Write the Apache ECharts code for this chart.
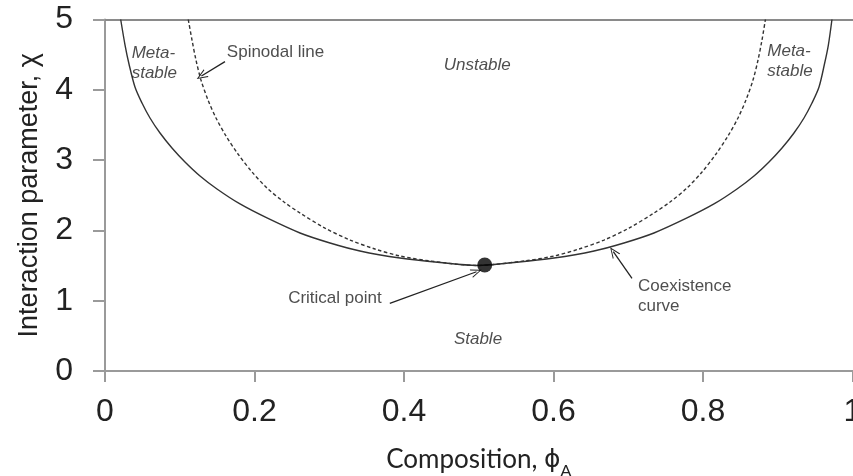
<!DOCTYPE html>
<html>
<head>
<meta charset="utf-8">
<script src="https://cdn.jsdelivr.net/npm/echarts@6/dist/echarts.min.js"></script>
<style>
  html, body { margin: 0; padding: 0; background: #fff; }
  #chart { width: 853px; height: 476px; }
</style>
</head>
<body>
<div id="chart"></div>
<script>
// Coexistence (binodal) curve: composition phi_A vs interaction parameter chi
const coexPhi = [0.0210, 0.0268, 0.0321, 0.0401, 0.0495, 0.0602, 0.0736, 0.0896, 0.1070, 0.1271, 0.1498, 0.1806, 0.2167,
                 0.2609, 0.3010, 0.3411, 0.3946, 0.4482, 0.4977,
                 0.5472, 0.6007, 0.6542, 0.6943, 0.7344, 0.7786, 0.8147, 0.8455, 0.8682, 0.8883, 0.9057, 0.9217,
                 0.9351, 0.9458, 0.9552, 0.9625, 0.9677, 0.9725];
const coexChi = [5.000, 4.637, 4.367, 4.040, 3.812, 3.599, 3.385, 3.172, 2.973, 2.774, 2.589, 2.376, 2.177,
                 1.963, 1.821, 1.707, 1.607, 1.543, 1.501,
                 1.543, 1.607, 1.707, 1.821, 1.963, 2.177, 2.376, 2.589, 2.774, 2.973, 3.172, 3.385,
                 3.599, 3.812, 4.040, 4.367, 4.637, 5.000];

// Spinodal line
const spinPhi = [0.1114, 0.1164, 0.1217, 0.1284, 0.1378, 0.1485, 0.1619, 0.1779, 0.1967, 0.2167, 0.2395, 0.2609,
                 0.2943, 0.3278, 0.3612, 0.3946, 0.4348, 0.4977,
                 0.5605, 0.6007, 0.6341, 0.6676, 0.7010, 0.7344, 0.7559, 0.7786, 0.7987, 0.8174, 0.8334,
                 0.8468, 0.8575, 0.8669, 0.8736, 0.8789, 0.8835];
const spinChi = [5.000, 4.708, 4.424, 4.139, 3.855, 3.599, 3.343, 3.087, 2.831, 2.603, 2.404, 2.247,
                 2.033, 1.863, 1.735, 1.636, 1.565, 1.501,
                 1.565, 1.636, 1.735, 1.863, 2.033, 2.247, 2.404, 2.603, 2.831, 3.087, 3.343,
                 3.599, 3.855, 4.139, 4.424, 4.708, 5.000];

// Critical point (phi_A, chi)
const criticalPoint = [0.508, 1.508];

// Axis ranges and tick steps
const xRange = [0, 1];
const yRange = [0, 5];
const xStep = 0.2;
const yStep = 1;

// Region and curve labels: [phi_A, chi, text, align]
const regionLabels = [
  [0.0357, 4.38, 'Meta-\nstable', 'left'],
  [0.886, 4.40, 'Meta-\nstable', 'left'],
  [0.498, 4.35, 'Unstable', 'center'],
  [0.499, 0.45, 'Stable', 'center']
];
const noteLabels = [
  [0.163, 4.54, 'Spinodal line', 'left'],
  [0.245, 1.034, 'Critical point', 'left'],
  [0.713, 1.057, 'Coexistence\ncurve', 'left']
];

// Pointer arrows: [from, to]
const pointers = [
  [[0.1605, 4.40], [0.129, 4.196]],
  [[0.381, 0.963], [0.497, 1.412]],
  [[0.705, 1.319], [0.680, 1.697]]
];

const zip = (a, b) => a.map((v, i) => [v, b[i]]);

const chart = echarts.init(document.getElementById('chart'), null, { renderer: 'canvas' });

const axisGray = '#9a9a9a';
const inkColor = '#222222';
const arrowHead = 'path://M5,0 L10,12 L8.8,12 L5,2.6 L1.2,12 L0,12 Z';

function labelSeries(items, italic) {
  return {
    type: 'scatter',
    silent: true,
    symbolSize: 0,
    z: 5,
    data: items.map(d => ({
      value: [d[0], d[1]],
      label: { align: d[3] }
    })),
    label: {
      show: true,
      position: 'inside',
      verticalAlign: 'middle',
      formatter: p => items[p.dataIndex][2],
      fontFamily: 'Liberation Sans, Arial, sans-serif',
      fontSize: 17,
      fontStyle: italic ? 'italic' : 'normal',
      lineHeight: 20,
      color: inkColor
    }
  };
}

chart.setOption({
  animation: false,
  backgroundColor: '#ffffff',
  grid: { left: 105, right: 0.5, top: 19.5, bottom: 105, containLabel: false, outerBoundsMode: 'none' },
  xAxis: [
    {
      type: 'value',
      min: xRange[0], max: xRange[1], interval: xStep,
      position: 'bottom',
      name: 'Composition, {phi|ϕ}{sub|A}',
      nameLocation: 'middle',
      nameGap: 76,
      nameTextStyle: {
        fontFamily: 'Lato, sans-serif',
        fontSize: 26,
        color: '#222',
        rich: {
          phi: { fontFamily: 'DejaVu Sans, sans-serif', fontSize: 25, color: '#222' },
          sub: { fontFamily: 'Lato, sans-serif', fontSize: 16, color: '#222', verticalAlign: 'bottom', padding: [0, 0, -6, 0] }
        }
      },
      axisLine: { show: true, lineStyle: { color: axisGray, width: 2 } },
      axisTick: { show: true, length: 11, lineStyle: { color: axisGray, width: 2 } },
      axisLabel: { fontFamily: 'Liberation Sans, Arial, sans-serif', fontSize: 32, color: '#222', margin: 25 },
      splitLine: { show: false }
    },
    {
      type: 'value',
      min: xRange[0], max: xRange[1],
      position: 'top',
      axisLine: { show: true, lineStyle: { color: '#8a8a8a', width: 2 } },
      axisTick: { show: false },
      axisLabel: { show: false },
      splitLine: { show: false }
    }
  ],
  yAxis: {
    type: 'value',
    min: yRange[0], max: yRange[1], interval: yStep,
    name: 'Interaction parameter, χ',
    nameLocation: 'middle',
    nameGap: 62,
    nameTextStyle: { fontFamily: 'Liberation Sans, Arial, sans-serif', fontSize: 27, color: '#222' },
    axisLine: { show: true, lineStyle: { color: axisGray, width: 2 } },
    axisTick: { show: true, length: 12, lineStyle: { color: axisGray, width: 2 } },
    axisLabel: { fontFamily: 'Liberation Sans, Arial, sans-serif', fontSize: 32, color: '#222', margin: 32 },
    splitLine: { show: false }
  },
  series: [
    {
      name: 'Coexistence curve',
      type: 'line',
      data: zip(coexPhi, coexChi),
      smooth: 0.3,
      showSymbol: false,
      silent: true,
      lineStyle: { color: '#333333', width: 1.4 },
      z: 3
    },
    {
      name: 'Spinodal line',
      type: 'line',
      data: zip(spinPhi, spinChi),
      smooth: 0.3,
      showSymbol: false,
      silent: true,
      lineStyle: { color: '#333333', width: 1.4, type: [3.5, 2.5] },
      z: 3
    },
    {
      name: 'Critical point',
      type: 'scatter',
      data: [criticalPoint],
      symbolSize: 15,
      silent: true,
      itemStyle: { color: '#000000' },
      z: 6
    },
    labelSeries(regionLabels, true),
    Object.assign(labelSeries(noteLabels, false), {
      markLine: {
        silent: true,
        symbol: ['none', arrowHead],
        symbolSize: [9, 11],
        label: { show: false },
        lineStyle: { color: inkColor, width: 1.3, type: 'solid' },
        emphasis: { disabled: true },
        data: pointers.map(p => [{ coord: p[0] }, { coord: p[1] }])
      }
    })
  ]
});
</script>
</body>
</html>
